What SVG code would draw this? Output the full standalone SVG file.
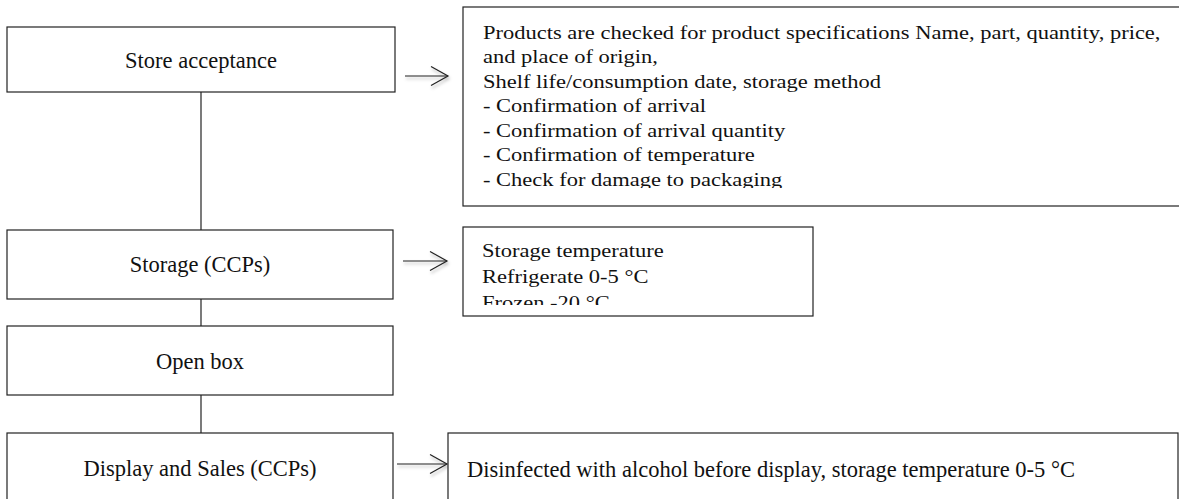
<svg xmlns="http://www.w3.org/2000/svg" width="1179" height="499" viewBox="0 0 1179 499">
  <style>
    .box { fill: #ffffff; stroke: #222222; stroke-width: 1.2; }
    .lbl { font-family: "Liberation Serif", "Times New Roman", serif; font-size: 22.5px; fill: #111111; }
    .mid { text-anchor: middle; }
    .link { stroke: #222222; stroke-width: 1.2; fill: none; }
    .arrow { stroke: #222222; stroke-width: 1.2; fill: none; marker-end: url(#chev); }
  </style>
  <defs>
    <marker id="chev" viewBox="0 0 18 21" refX="17" refY="10.5" markerWidth="18" markerHeight="21" markerUnits="userSpaceOnUse" orient="auto" overflow="visible">
      <path d="M0,1 L17,10.5 L0,20" fill="none" stroke="#222222" stroke-width="1.2"/>
    </marker>
    <filter id="shadow" filterUnits="userSpaceOnUse" x="0" y="0" width="1179" height="499">
      <feDropShadow dx="1" dy="2.5" stdDeviation="1.8" flood-color="#000000" flood-opacity="0.3"/>
    </filter>
    <clipPath id="clipA"><rect x="463" y="8" width="716" height="180"/></clipPath>
    <clipPath id="clipB"><rect x="463" y="227" width="350" height="78"/></clipPath>
  </defs>
  <rect width="1179" height="499" fill="#ffffff"/>

  <g id="connectors">
    <line class="link" x1="201" y1="92" x2="201" y2="230"/>
    <line class="link" x1="201" y1="299" x2="201" y2="326"/>
    <line class="link" x1="201" y1="395" x2="201" y2="433"/>
    <g filter="url(#shadow)">
      <line class="arrow" x1="405" y1="76" x2="448" y2="76"/>
      <line class="arrow" x1="403" y1="261" x2="447" y2="261"/>
      <line class="arrow" x1="397" y1="464" x2="447" y2="464"/>
    </g>
  </g>

  <g id="store-acceptance">
    <rect class="box" x="7" y="27" width="388" height="65"/>
    <text class="lbl mid" x="201" y="68">Store acceptance</text>
  </g>

  <g id="storage">
    <rect class="box" x="7" y="230" width="386" height="69"/>
    <text class="lbl mid" x="200" y="272">Storage (CCPs)</text>
  </g>

  <g id="open-box">
    <rect class="box" x="7" y="326" width="386" height="69"/>
    <text class="lbl mid" x="200" y="369">Open box</text>
  </g>

  <g id="display-sales">
    <rect class="box" x="7" y="433" width="386" height="80"/>
    <text class="lbl mid" x="200" y="476">Display and Sales (CCPs)</text>
  </g>

  <g id="acceptance-checks">
    <rect class="box" x="463" y="7" width="730" height="199"/>
    <g clip-path="url(#clipA)">
      <text class="lbl" transform="translate(483,39) scale(1,0.85)">
        <tspan x="0" y="0">Products are checked for product specifications Name, part, quantity, price,</tspan>
        <tspan x="0" dy="28.8">and place of origin,</tspan>
        <tspan x="0" dy="28.8">Shelf life/consumption date, storage method</tspan>
        <tspan x="0" dy="28.8">- Confirmation of arrival</tspan>
        <tspan x="0" dy="28.8">- Confirmation of arrival quantity</tspan>
        <tspan x="0" dy="28.8">- Confirmation of temperature</tspan>
        <tspan x="0" dy="28.8">- Check for damage to packaging</tspan>
      </text>
    </g>
  </g>

  <g id="storage-temperature">
    <rect class="box" x="463" y="227" width="350" height="89"/>
    <g clip-path="url(#clipB)">
      <text class="lbl" transform="translate(482,257) scale(1,0.85)">
        <tspan x="0" y="0">Storage temperature</tspan>
        <tspan x="0" dy="30.6">Refrigerate 0-5 °C</tspan>
        <tspan x="0" dy="30.6">Frozen -20 °C</tspan>
      </text>
    </g>
  </g>

  <g id="display-note">
    <rect class="box" x="448" y="433" width="730" height="80"/>
    <text class="lbl" x="467" y="477">Disinfected with alcohol before display, storage temperature 0-5 °C</text>
  </g>
</svg>
